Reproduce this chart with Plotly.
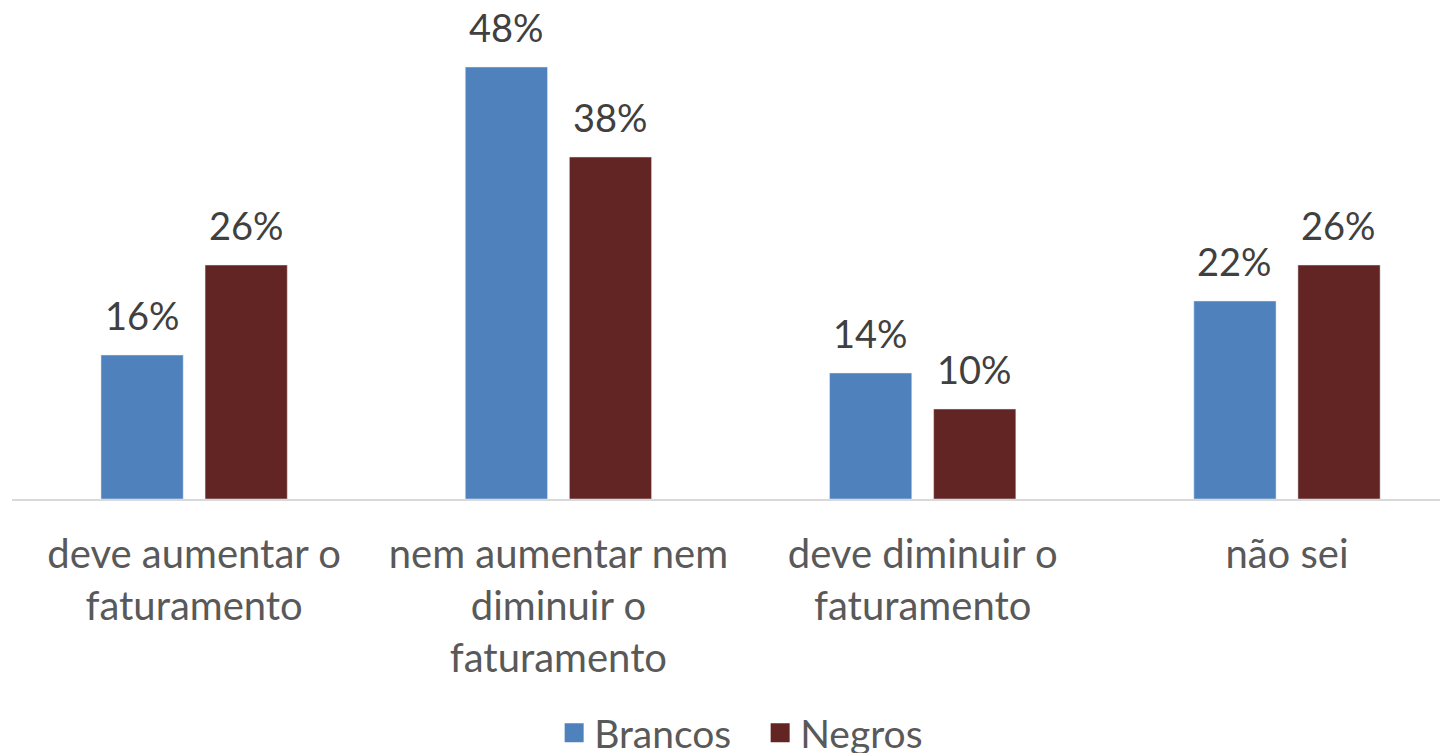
import plotly.graph_objects as go

categories = ["deve aumentar o<br>faturamento", "nem aumentar nem<br>diminuir o<br>faturamento",
              "deve diminuir o<br>faturamento", "não sei"]
brancos = [0.16, 0.48, 0.14, 0.22]
negros = [0.26, 0.38, 0.10, 0.26]
brancos_labels = ["16%", "48%", "14%", "22%"]
negros_labels = ["26%", "38%", "10%", "26%"]

FONT = "Lato"
BLUE = "#4F81BD"
RED = "#632523"

fig = go.Figure()
fig.add_trace(go.Bar(name="Brancos", x=categories, y=brancos, marker_color=BLUE,
                     showlegend=False))
fig.add_trace(go.Bar(name="Negros", x=categories, y=negros, marker_color=RED,
                     showlegend=False))
# legend entries with larger square swatches
for name, col in [("Brancos", BLUE), ("Negros", RED)]:
    fig.add_trace(go.Scatter(name=name, x=[None], y=[None], mode="markers",
                             marker=dict(symbol="square", size=22, color=col,
                                         line=dict(color=col, width=3))))

# value labels above bars
for vals, labs, shift in [(brancos, brancos_labels, -52), (negros, negros_labels, 52)]:
    for c, v, t in zip(categories, vals, labs):
        fig.add_annotation(x=c, y=v, text=t, showarrow=False, xshift=shift, yshift=16,
                           yanchor="bottom", borderpad=0,
                           font=dict(family=FONT, size=38, color="#404040"))

fig.update_layout(
    width=1440, height=745,
    margin=dict(l=4, r=0, t=41, b=254, autoexpand=False),
    barmode="group", bargap=0.4286, bargroupgap=0.21,
    plot_bgcolor="white", paper_bgcolor="white",
    font=dict(family=FONT, color="#595959", size=40),
    showlegend=True,
    legend=dict(orientation="h", x=0.521, xanchor="center", y=-0.52, yanchor="middle",
                font=dict(size=39, color="#595959"), itemsizing="trace",
                entrywidth=161, entrywidthmode="pixels"),
    xaxis=dict(range=[-0.5, 3.442], showline=True, linecolor="#D9D9D9", linewidth=2,
               ticks="", tickfont=dict(size=40, color="#595959"), showgrid=False,
               automargin=False, ticklabelstandoff=19),
    yaxis=dict(range=[0, 0.5], visible=False, showgrid=False, automargin=False),
)
fig.write_html("out.html")
